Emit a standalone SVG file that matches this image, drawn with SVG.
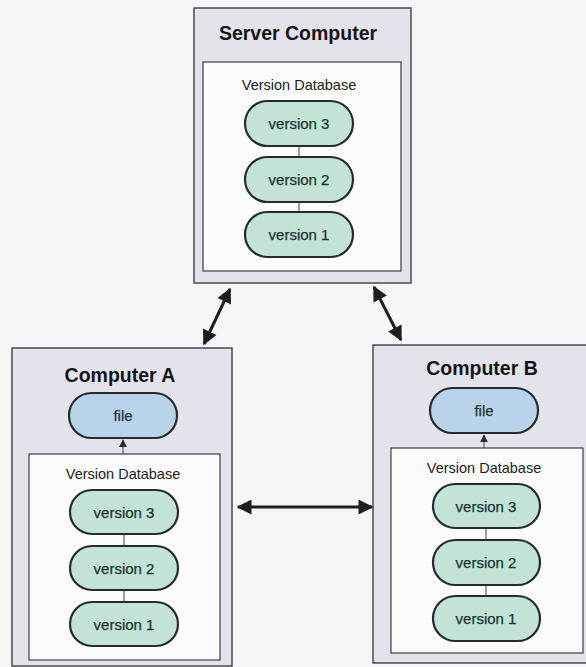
<svg xmlns="http://www.w3.org/2000/svg" width="586" height="667" viewBox="0 0 586 667">
  <defs>
    <marker id="head" viewBox="0 0 10 10" refX="9" refY="5" markerWidth="5.5" markerHeight="5" orient="auto-start-reverse" markerUnits="strokeWidth">
      <path d="M0,0 L10,5 L0,10 z" fill="#1e1e1e"/>
    </marker>
    <marker id="small" viewBox="0 0 10 10" refX="9" refY="5" markerWidth="8" markerHeight="8" orient="auto" markerUnits="strokeWidth">
      <path d="M0,0 L10,5 L0,10 z" fill="#2a2a2a"/>
    </marker>
  </defs>
  <style>
    .bg { fill: #f6f6f8; }
    .outer { fill: #e4e3ec; stroke: #4a4a50; stroke-width: 1.5; }
    .inner { fill: #fbfbfc; stroke: #4a4a50; stroke-width: 1.3; }
    .ver { fill: #c3e3d6; stroke: #262a2a; stroke-width: 2.2; }
    .file { fill: #b9d3ea; stroke: #262a2a; stroke-width: 2.2; }
    .title { font-family: "Liberation Sans", Arial, sans-serif; font-weight: bold; font-size: 19.5px; fill: #151515; text-anchor: middle; }
    .db { font-family: "Liberation Sans", Arial, sans-serif; font-size: 14.5px; fill: #1c1c1c; text-anchor: middle; }
    .lbl { font-family: "Liberation Sans", Arial, sans-serif; font-size: 15px; fill: #1d3333; text-anchor: middle; stroke: #1d3333; stroke-width: 0.25; }
    .link { stroke: #444; stroke-width: 1; }
    .arrow { stroke: #1e1e1e; stroke-width: 3; fill: none; marker-start: url(#head); marker-end: url(#head); }
  </style>

  <rect class="bg" x="0" y="0" width="586" height="667"/>

  <!-- server machine with its version store -->
  <g id="server">
    <rect class="outer" x="194" y="8" width="217" height="275"/>
    <text class="title" x="298" y="40">Server Computer</text>
    <rect class="inner" x="203" y="62" width="198" height="209"/>
    <text class="db" x="299" y="90">Version Database</text>
    <line class="link" x1="299" y1="146" x2="299" y2="156"/>
    <line class="link" x1="299" y1="202" x2="299" y2="212"/>
    <g id="server-v3"><rect class="ver" x="245" y="101" width="108" height="45" rx="22.5"/><text class="lbl" x="299" y="129">version 3</text></g>
    <g id="server-v2"><rect class="ver" x="245" y="157" width="108" height="45" rx="22.5"/><text class="lbl" x="299" y="185">version 2</text></g>
    <g id="server-v1"><rect class="ver" x="245" y="212" width="108" height="45" rx="22.5"/><text class="lbl" x="299" y="240">version 1</text></g>
  </g>

  <!-- client A -->
  <g id="computer-a">
    <rect class="outer" x="12" y="348" width="220" height="318"/>
    <text class="title" x="120" y="382">Computer A</text>
    <g id="a-file"><rect class="file" x="69" y="393" width="108" height="45" rx="22.5"/><text class="lbl" x="123" y="421">file</text></g>
    <rect class="inner" x="29" y="454" width="191" height="206"/>
    <line class="link" x1="123" y1="454" x2="123" y2="440" marker-end="url(#small)"/>
    <text class="db" x="123" y="479">Version Database</text>
    <line class="link" x1="124" y1="534" x2="124" y2="545"/>
    <line class="link" x1="124" y1="590" x2="124" y2="602"/>
    <g id="a-v3"><rect class="ver" x="70" y="490" width="108" height="44" rx="22"/><text class="lbl" x="124" y="518">version 3</text></g>
    <g id="a-v2"><rect class="ver" x="70" y="546" width="108" height="44" rx="22"/><text class="lbl" x="124" y="574">version 2</text></g>
    <g id="a-v1"><rect class="ver" x="70" y="602" width="108" height="44" rx="22"/><text class="lbl" x="124" y="630">version 1</text></g>
  </g>

  <!-- client B -->
  <g id="computer-b">
    <rect class="outer" x="373" y="345" width="216" height="318"/>
    <text class="title" x="482" y="375">Computer B</text>
    <g id="b-file"><rect class="file" x="430" y="388" width="108" height="45" rx="22.5"/><text class="lbl" x="484" y="416">file</text></g>
    <rect class="inner" x="391" y="448" width="192" height="205"/>
    <line class="link" x1="484" y1="448" x2="484" y2="435" marker-end="url(#small)"/>
    <text class="db" x="484" y="473">Version Database</text>
    <line class="link" x1="486" y1="528" x2="486" y2="540"/>
    <line class="link" x1="486" y1="585" x2="486" y2="596"/>
    <g id="b-v3"><rect class="ver" x="433" y="484" width="107" height="44" rx="22"/><text class="lbl" x="486" y="512">version 3</text></g>
    <g id="b-v2"><rect class="ver" x="433" y="540" width="107" height="45" rx="22.5"/><text class="lbl" x="486" y="568">version 2</text></g>
    <g id="b-v1"><rect class="ver" x="433" y="596" width="107" height="45" rx="22.5"/><text class="lbl" x="486" y="624">version 1</text></g>
  </g>

  <!-- sync links between machines -->
  <g id="connectors">
    <line class="arrow" x1="230" y1="289" x2="204" y2="344"/>
    <line class="arrow" x1="374" y1="287" x2="401" y2="340"/>
    <line class="arrow" x1="238" y1="507" x2="372" y2="507"/>
  </g>
</svg>
